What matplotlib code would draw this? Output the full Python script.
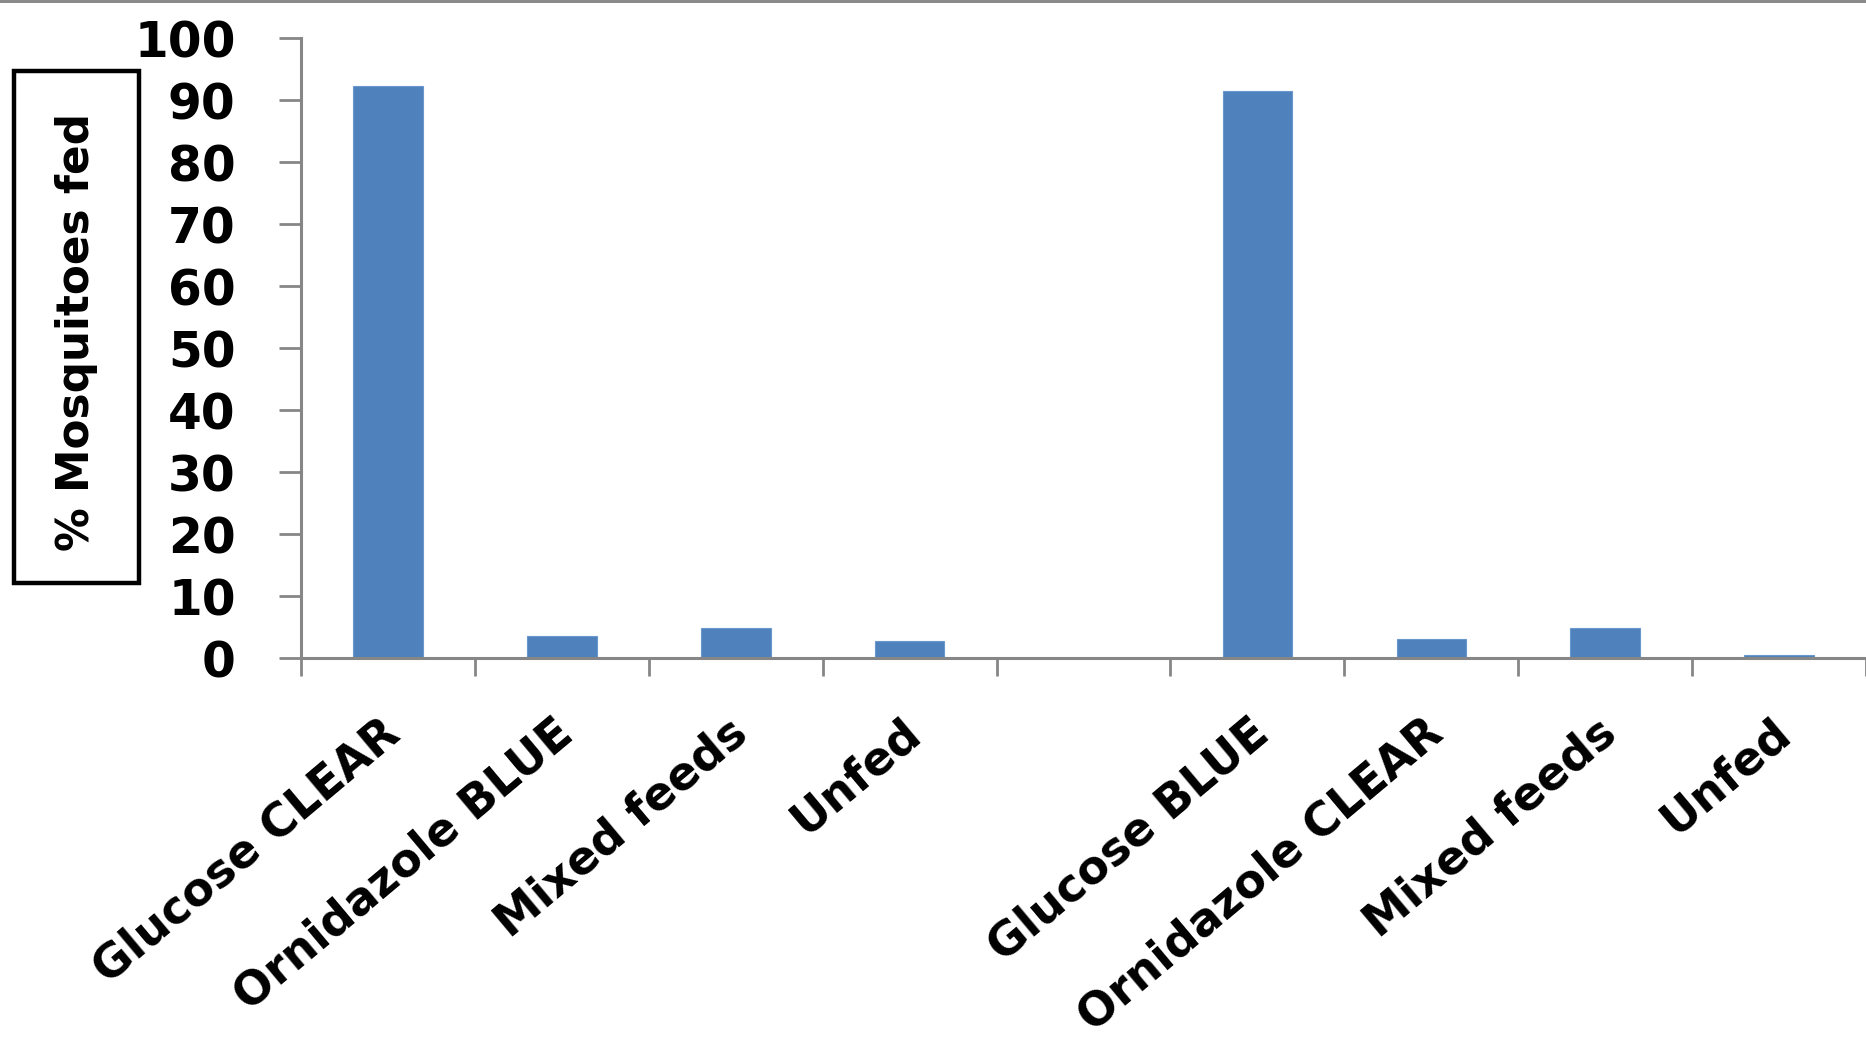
import numpy as np
import matplotlib
matplotlib.use("Agg")
import matplotlib.pyplot as plt
from matplotlib.patches import Rectangle
import matplotlib.transforms as mtransforms

# Feeding-choice results for two dye/sugar pairings (empty slot separates them)
categories = ["Glucose CLEAR", "Ornidazole BLUE", "Mixed feeds", "Unfed", "",
              "Glucose BLUE", "Ornidazole CLEAR", "Mixed feeds", "Unfed"]
pct_fed = [92.3, 3.6, 4.9, 2.8, np.nan, 91.4, 3.0, 4.9, 0.5]
y_ticks = [0, 10, 20, 30, 40, 50, 60, 70, 80, 90, 100]
y_label = "% Mosquitoes fed"

BAR_COLOR = "#4F81BD"
AXIS_GRAY = "#868686"

plt.rcParams["font.family"] = ["DejaVu Sans"]
plt.rcParams["font.weight"] = "bold"

W, H = 1866, 1037
fig = plt.figure(figsize=(W / 100, H / 100), dpi=100)
ax = fig.add_axes([301 / W, 1 - 658 / H, 1 - 301 / W, (658 - 38) / H])

x = np.arange(len(categories))
vals = np.array(pct_fed, dtype=float)
mask = ~np.isnan(vals)
ax.bar(x[mask], vals[mask], width=0.4, color=BAR_COLOR, edgecolor="#6A97CC",
       linewidth=0.8, zorder=2)

ax.set_xlim(-0.5, len(categories) - 0.5)
ax.set_ylim(0, 100)

# y axis
ax.set_yticks(y_ticks)
ax.set_yticklabels([str(v) for v in y_ticks], fontsize=35, fontweight="bold")
ax.tick_params(axis="y", direction="out", length=16, width=2, color=AXIS_GRAY,
               pad=31)

# x axis: boundary ticks, labels centred on categories
ax.set_xticks(np.arange(len(categories) + 1) - 0.5)
ax.set_xticklabels([])
ax.set_xticks(x, minor=True)
ax.set_xticklabels(categories, minor=True, fontsize=33, fontweight="bold")
ax.tick_params(axis="x", which="major", direction="out", length=13, width=2,
               color=AXIS_GRAY)
ax.tick_params(axis="x", which="minor", length=0, pad=13 + 37)
offset = mtransforms.ScaledTranslation(6 / 100, 0, fig.dpi_scale_trans)
for lab in ax.get_xticklabels(minor=True):
    lab.set_rotation(40)
    lab.set_ha("right")
    lab.set_va("center")
    lab.set_rotation_mode("anchor")
    lab.set_transform(lab.get_transform() + offset)

for side in ("top", "right"):
    ax.spines[side].set_visible(False)
for side in ("left", "bottom"):
    ax.spines[side].set_color(AXIS_GRAY)
    ax.spines[side].set_linewidth(2.2)
ax.spines["bottom"].set_zorder(3)

# boxed y-axis title
fig.add_artist(Rectangle((14 / W, 1 - 583 / H), 125 / W, 512 / H,
                         transform=fig.transFigure, fill=False,
                         edgecolor="black", linewidth=3.2))
fig.text(77 / W, 1 - 332 / H, y_label, rotation=90, ha="center", va="center",
         fontsize=31.5, fontweight="bold")

# thin gray rule along the top edge
fig.add_artist(Rectangle((0, 1 - 3 / H), 1, 3 / H, transform=fig.transFigure,
                         facecolor="#8A8A8A", edgecolor="none"))

fig.savefig("out.png", dpi=100)
